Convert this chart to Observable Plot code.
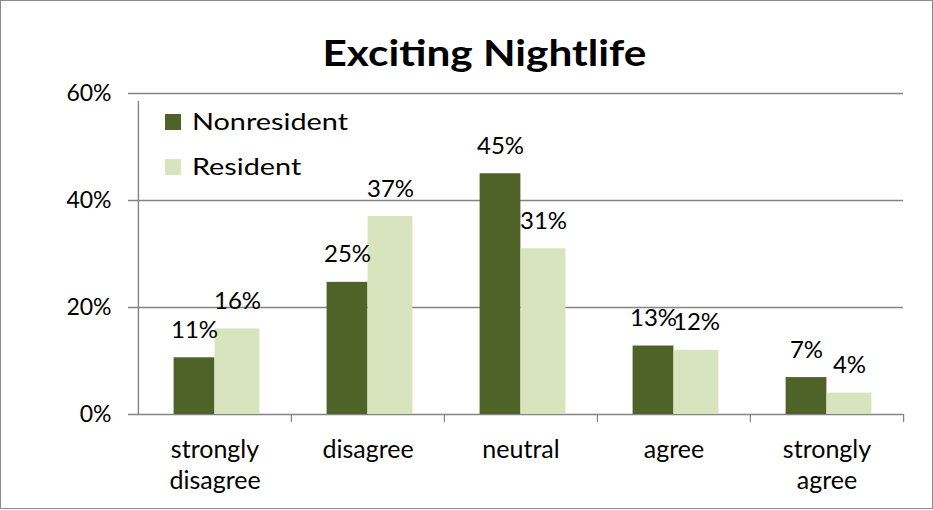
<!DOCTYPE html>
<html>
<head>
<meta charset="utf-8">
<script src="https://cdn.jsdelivr.net/npm/d3@7"></script>
<script src="https://cdn.jsdelivr.net/npm/@observablehq/plot@0.6"></script>
<style>
  html, body { margin: 0; padding: 0; background: #fff; }
  #wrap { position: relative; width: 931px; height: 507px; border: 1px solid #8c8c8c; overflow: hidden; font-family: Lato, sans-serif; color: #000; }
  #title { position: absolute; left: 0; top: 32px; width: 967px; text-align: center; font-weight: bold; font-size: 37px; line-height: 1; }
  #title span { display: inline-block; transform: scaleX(1.145); transform-origin: 50% 50%; }
  #chart { position: absolute; left: 0; top: 80px; }
  #legend { position: absolute; left: 164px; top: 105px; font-size: 24px; }
  .item { position: absolute; left: 0; white-space: nowrap; height: 30px; line-height: 30px; }
  .sw { position: absolute; left: 0; top: 8px; width: 16px; height: 16px; }
  .lab { position: absolute; left: 27px; top: 0; display: inline-block; transform: scaleX(1.2); transform-origin: 0 50%; }
</style>
</head>
<body>
<div id="wrap">
  <div id="title"><span>Exciting Nightlife</span></div>
  <div id="chart"></div>
  <div id="legend"></div>
</div>
<script>
const categories = ["strongly disagree", "disagree", "neutral", "agree", "strongly agree"];
const categoryLabels = ["strongly\ndisagree", "disagree", "neutral", "agree", "strongly\nagree"];
const series = ["Nonresident", "Resident"];
const nonresident = [0.106, 0.247, 0.450, 0.128, 0.069];
const resident = [0.160, 0.370, 0.310, 0.120, 0.040];
const yTicks = [0, 0.2, 0.4, 0.6];
const colors = ["#4f6228", "#d7e4bd"];

const fmt = d3.format(".0%");
const W = 931, H = 427, ML = 136, MR = 29, MT = 12, MB = 94;
const bw = (W - ML - MR) / categories.length;
const nonW = 41, resW = 45;
const grid = "#848484";

const rows = categories.map((c, i) => ({category: c, label: categoryLabels[i], non: nonresident[i], res: resident[i]}));

const chart = Plot.plot({
  width: W, height: H,
  marginLeft: ML, marginRight: MR, marginTop: MT, marginBottom: MB,
  x: {type: "band", domain: categories, padding: 0, axis: null},
  y: {domain: [0, 0.6], axis: null},
  style: {fontFamily: "Lato, sans-serif", background: "transparent", overflow: "visible", color: "#000"},
  marks: [
    Plot.ruleY(yTicks, {stroke: grid, strokeWidth: 1.4, insetLeft: -9}),
    Plot.ruleX([categories[0]], {x: d => d, y1: 0, y2: 0.6, dx: -bw / 2, insetBottom: -8, stroke: grid, strokeWidth: 1.4}),
    Plot.ruleX(categories.slice(1), {x: d => d, y1: 0, y2: 0, dx: -bw / 2, insetBottom: -8, stroke: grid, strokeWidth: 1.2}),
    Plot.ruleX([categories[categories.length - 1]], {x: d => d, y1: 0, y2: 0, dx: bw / 2, insetBottom: -8, stroke: grid, strokeWidth: 1.2}),
    Plot.barY(rows, {x: "category", y: "non", fill: colors[0], insetLeft: bw / 2 - nonW, insetRight: bw / 2}),
    Plot.barY(rows, {x: "category", y: "res", fill: colors[1], insetLeft: bw / 2, insetRight: bw / 2 - resW}),
    Plot.text(rows, {x: "category", y: "non", text: d => fmt(d.non), dx: -nonW / 2, dy: -20, lineAnchor: "bottom", fontSize: 24, fill: "#000"}),
    Plot.text(rows, {x: "category", y: "res", text: d => fmt(d.res), dx: resW / 2, dy: -20, lineAnchor: "bottom", fontSize: 24, fill: "#000"}),
    Plot.text(yTicks, {y: d => d, text: d => fmt(d), frameAnchor: "left", textAnchor: "end", dx: -26, fontSize: 23, fill: "#000"}),
    Plot.text(rows, {x: "category", text: "label", frameAnchor: "bottom", lineAnchor: "top", dy: 21, lineHeight: 1.26, fontSize: 25, fill: "#000"})
  ]
});
document.getElementById("chart").appendChild(chart);

const legend = document.getElementById("legend");
series.forEach((s, i) => {
  const item = document.createElement("div");
  item.className = "item";
  item.style.top = (i * 45) + "px";
  item.innerHTML = `<span class="sw" style="background:${colors[i]}"></span><span class="lab">${s}</span>`;
  legend.appendChild(item);
});
</script>
</body>
</html>
